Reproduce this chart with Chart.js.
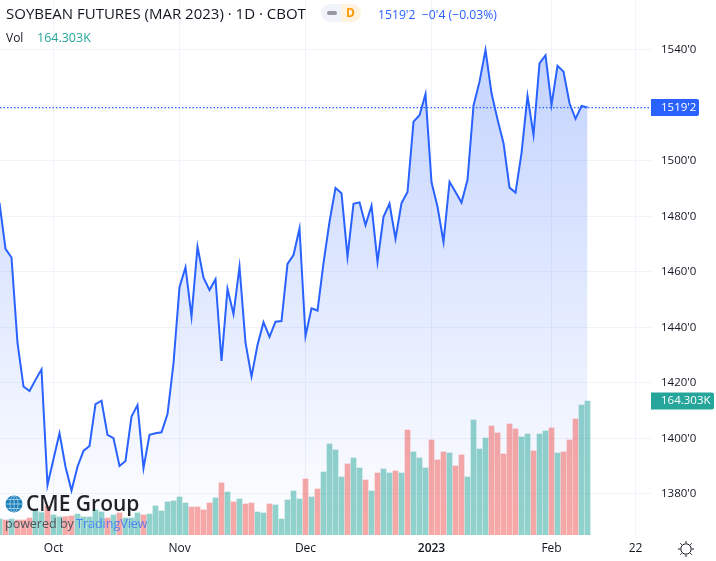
<!DOCTYPE html>
<html>
<head>
<meta charset="utf-8">
<script src="https://cdn.jsdelivr.net/npm/chart.js@4"></script>
<style>
    html, body { margin: 0; padding: 0; background: #fff; }
    #wrap { position: relative; width: 716px; height: 561px; overflow: hidden; font-family: "Open Sans", sans-serif; color: #131722; }
    #wrap div, #wrap span { position: absolute; white-space: nowrap; }
    canvas { position: absolute; left: 0; top: 0; }
</style>
</head>
<body>
<div id="wrap">
    <canvas id="soybeanChart" width="716" height="561"></canvas>
    <div style="left:6px;top:3px;font-size:15px;line-height:20px;">SOYBEAN FUTURES (MAR 2023) · 1D · CBOT</div>
    <div style="left:321px;top:4px;width:20px;height:18px;background:#f0f3fa;border-radius:9px 0 0 9px;"></div>
    <div style="left:341px;top:4px;width:20px;height:18px;background:#fff3e0;border-radius:0 9px 9px 0;"></div>
    <div style="left:327px;top:11px;width:10px;height:4px;background:#9598a1;border-radius:2px;"></div>
    <div style="left:346px;top:4px;font-size:12px;line-height:18px;font-weight:700;color:#ff9800;">D</div>
    <div style="left:378px;top:6px;font-size:12.2px;line-height:17px;color:#2962ff;">1519'2&nbsp; −0'4 (−0.03%)</div>
    <div style="left:6px;top:29px;font-size:12px;line-height:17px;">Vol</div>
    <div style="left:37px;top:29px;font-size:12.5px;line-height:17px;color:#26a69a;">164.303K</div>

    <svg style="position:absolute;left:5px;top:495px;" width="18" height="18" viewBox="0 0 18 18">
        <circle cx="9" cy="9" r="8.5" fill="#1d7fb8"/>
        <g fill="none" stroke="#bfe0f0" stroke-width="0.7">
            <ellipse cx="9" cy="9" rx="4" ry="8.5"/>
            <path d="M9 0.5V17.5M0.5 9H17.5M2 4.5H16M2 13.5H16"/>
        </g>
    </svg>
    <div style="left:26px;top:490px;font-size:21px;line-height:26px;font-weight:600;color:#1f2226;">CME Group</div>
    <div style="left:5px;top:515px;font-size:12.5px;line-height:18px;color:#50535e;">powered by</div>
    <div style="left:76px;top:515px;font-size:12.5px;line-height:18px;color:#2962ff;opacity:0.7;">TradingView</div>

    <svg style="position:absolute;left:677px;top:540px;" width="18" height="18" viewBox="0 0 18 18">
        <circle cx="9" cy="9" r="5.2" fill="none" stroke="#131722" stroke-width="1"/>
        <path d="M9 1V3M9 15V17M1 9H3M15 9H17M3.3 3.3L4.8 4.8M13.2 13.2L14.7 14.7M3.3 14.7L4.8 13.2M13.2 4.8L14.7 3.3" stroke="#131722" stroke-width="1"/>
    </svg>
</div>

<script>
const closePrices = [
    1484.9, 1468.3, 1465.2, 1434.4, 1418.7, 1417.1, 1421.1, 1424.9, 1383.2, 1392.6,
    1401.9, 1389.8, 1381.2, 1389.8, 1395.5, 1397.3, 1412.4, 1413.6, 1401.3, 1400.1,
    1390.1, 1391.9, 1407.9, 1412.0, 1389.3, 1401.3, 1401.9, 1402.2, 1408.8, 1427.1,
    1454.5, 1461.7, 1443.9, 1469.1, 1457.9, 1453.5, 1457.4, 1427.9, 1453.9, 1444.8,
    1461.9, 1434.5, 1422.3, 1433.7, 1441.9, 1436.6, 1442.1, 1442.3, 1462.9, 1466.1,
    1475.7, 1436.9, 1446.9, 1446.1, 1463.2, 1478.1, 1490.3, 1488.4, 1465.5, 1484.6,
    1485.1, 1476.9, 1483.9, 1463.6, 1479.9, 1484.6, 1472.0, 1484.8, 1488.8, 1514.2,
    1516.5, 1524.1, 1492.3, 1483.5, 1470.8, 1492.5, 1488.8, 1485.0, 1493.2, 1519.9,
    1528.6, 1540.0, 1524.4, 1515.0, 1506.4, 1490.4, 1488.6, 1502.8, 1523.5, 1509.4,
    1535.2, 1538.1, 1520.2, 1534.3, 1532.2, 1520.8, 1515.2, 1519.8, 1519.25
];

const volumes = [
    19.6, 18.4, 19.6, 18.4, 18.4, 20.8, 30.7, 27.4, 35.6, 24.5,
    22.1, 22.5, 23.3, 25.7, 22.1, 22.1, 30.7, 28.2, 20.8, 24.5,
    27.0, 20.8, 20.8, 27.0, 24.5, 25.7, 35.6, 29.4, 40.5, 41.7,
    46.6, 39.2, 34.3, 34.3, 30.7, 39.2, 45.4, 63.8, 52.7, 40.5,
    44.1, 38.0, 39.2, 28.2, 27.0, 38.0, 36.8, 19.6, 42.9, 53.9,
    44.1, 68.7, 46.6, 56.4, 77.2, 111.6, 104.2, 71.1, 87.1, 94.4,
    82.1, 67.4, 53.9, 76.0, 80.9, 76.0, 78.5, 76.0, 128.7, 101.8,
    94.4, 82.1, 116.5, 92.0, 101.8, 100.5, 84.6, 98.1, 71.1, 141.0,
    105.4, 118.9, 133.6, 125.1, 99.3, 136.1, 130.0, 120.2, 123.8, 103.0,
    123.8, 127.5, 131.2, 100.5, 101.8, 116.5, 142.2, 159.4, 164.303
];

// 1 = up day (teal), 0 = down day (red)
const volumeUp = [
    1, 0, 1, 0, 0, 0, 1, 1, 0, 1,
    1, 0, 0, 1, 1, 1, 1, 1, 0, 1,
    0, 1, 1, 1, 0, 1, 1, 1, 1, 1,
    1, 1, 0, 0, 0, 0, 1, 0, 1, 0,
    1, 0, 0, 1, 1, 0, 1, 1, 1, 1,
    1, 0, 1, 0, 1, 1, 1, 1, 0, 1,
    1, 0, 1, 0, 1, 1, 0, 1, 0, 1,
    1, 1, 0, 0, 0, 1, 0, 0, 1, 1,
    1, 1, 0, 0, 0, 0, 0, 1, 1, 0,
    1, 1, 0, 1, 0, 0, 0, 1, 1
];

const dateTickIndexes = [9, 30, 51, 72, 92, 106];
const dateTickLabels = ['Oct', 'Nov', 'Dec', '2023', 'Feb', '22'];
const priceTicks = [1380, 1400, 1420, 1440, 1460, 1480, 1500, 1520, 1540];
const lastPrice = 1519.25;
const lastPriceLabel = "1519'2";
const lastVolume = 164.303;
const lastVolumeLabel = '164.303K';

const fontFamily = '"Open Sans", sans-serif';
const xMin = 1 / 12;
const xMax = 108.58;

// value tags on the price axis
const axisTags = {
    id: 'axisTags',
    afterDraw(chart) {
        let ctx = chart.ctx;
        let drawTag = (y, text, color, width) => {
            ctx.save();
            ctx.fillStyle = color;
            ctx.beginPath();
            ctx.roundRect(chart.chartArea.right, y - 8.5, width, 17, [0, 2, 2, 0]);
            ctx.fill();
            ctx.fillStyle = '#fff';
            ctx.font = '11.5px ' + fontFamily;
            ctx.textBaseline = 'middle';
            ctx.fillText(text, chart.chartArea.right + 10, y);
            ctx.restore();
        };
        drawTag(chart.scales.y.getPixelForValue(lastPrice), lastPriceLabel, '#2962ff', 48);
        drawTag(chart.scales.yVolume.getPixelForValue(lastVolume), lastVolumeLabel, '#26a69a', 63);
    }
};

// the axes must not push the plot area in for their outer tick labels
let noAxisPadding = scale => {
    scale.paddingLeft = 0;
    scale.paddingRight = 0;
    scale.paddingTop = 0;
    scale.paddingBottom = 0;
};

let canvas = document.getElementById('soybeanChart').getContext('2d');

let areaGradient = canvas.createLinearGradient(0, 50, 0, 535);
areaGradient.addColorStop(0, 'rgba(41, 98, 255, 0.28)');
areaGradient.addColorStop(1, 'rgba(41, 98, 255, 0)');

new Chart(canvas, {
    data: {
        datasets: [
            {
                type: 'bar',
                yAxisID: 'yVolume',
                data: volumes.map((v, i) => ({ x: i, y: v })),
                backgroundColor: volumeUp.map(up => up ? 'rgba(38, 166, 154, 0.5)' : 'rgba(239, 83, 80, 0.5)'),
                barThickness: 5,
                order: 0
            },
            {
                type: 'line',
                yAxisID: 'y',
                data: closePrices.map((v, i) => ({ x: i, y: v })),
                borderColor: '#2962ff',
                borderWidth: 2,
                backgroundColor: areaGradient,
                fill: 'start',
                tension: 0,
                pointRadius: 0,
                order: 1
            },
            {
                type: 'line',
                yAxisID: 'y',
                data: [{ x: xMin, y: lastPrice }, { x: xMax, y: lastPrice }],
                borderColor: '#2962ff',
                borderWidth: 1.2,
                borderDash: [1.5, 2],
                pointRadius: 0,
                order: 2
            }
        ]
    },
    options: {
        responsive: false,
        animation: false,
        layout: { padding: 0 },
        plugins: { legend: { display: false }, tooltip: { enabled: false } },
        scales: {
            x: {
                type: 'linear',
                offset: false,
                min: xMin,
                max: xMax,
                afterBuildTicks: scale => { scale.ticks = dateTickIndexes.map(v => ({ value: v })); },
                afterFit: scale => { scale.height = 26; noAxisPadding(scale); },
                grid: { color: '#f0f3fa', drawTicks: false, offset: false },
                border: { display: false },
                ticks: {
                    autoSkip: false,
                    maxRotation: 0,
                    padding: 6,
                    color: '#131722',
                    font: ctx => ({ family: fontFamily, size: 12, weight: dateTickLabels[ctx.index] === '2023' ? 600 : 400 }),
                    callback: (value, index) => dateTickLabels[index]
                }
            },
            y: {
                position: 'right',
                min: 1365.2,
                max: 1558.02,
                afterBuildTicks: scale => { scale.ticks = priceTicks.map(v => ({ value: v })); },
                afterFit: scale => { scale.width = 65; noAxisPadding(scale); },
                grid: { color: '#f0f3fa', drawTicks: false },
                border: { display: false },
                ticks: {
                    padding: 10,
                    color: '#131722',
                    font: { family: fontFamily, size: 11.5 },
                    callback: value => value + "'0"
                }
            },
            yVolume: {
                display: false,
                min: 0,
                max: 656,
                afterFit: noAxisPadding,
                grid: { display: false }
            }
        }
    },
    plugins: [axisTags]
});
</script>
</body>
</html>
